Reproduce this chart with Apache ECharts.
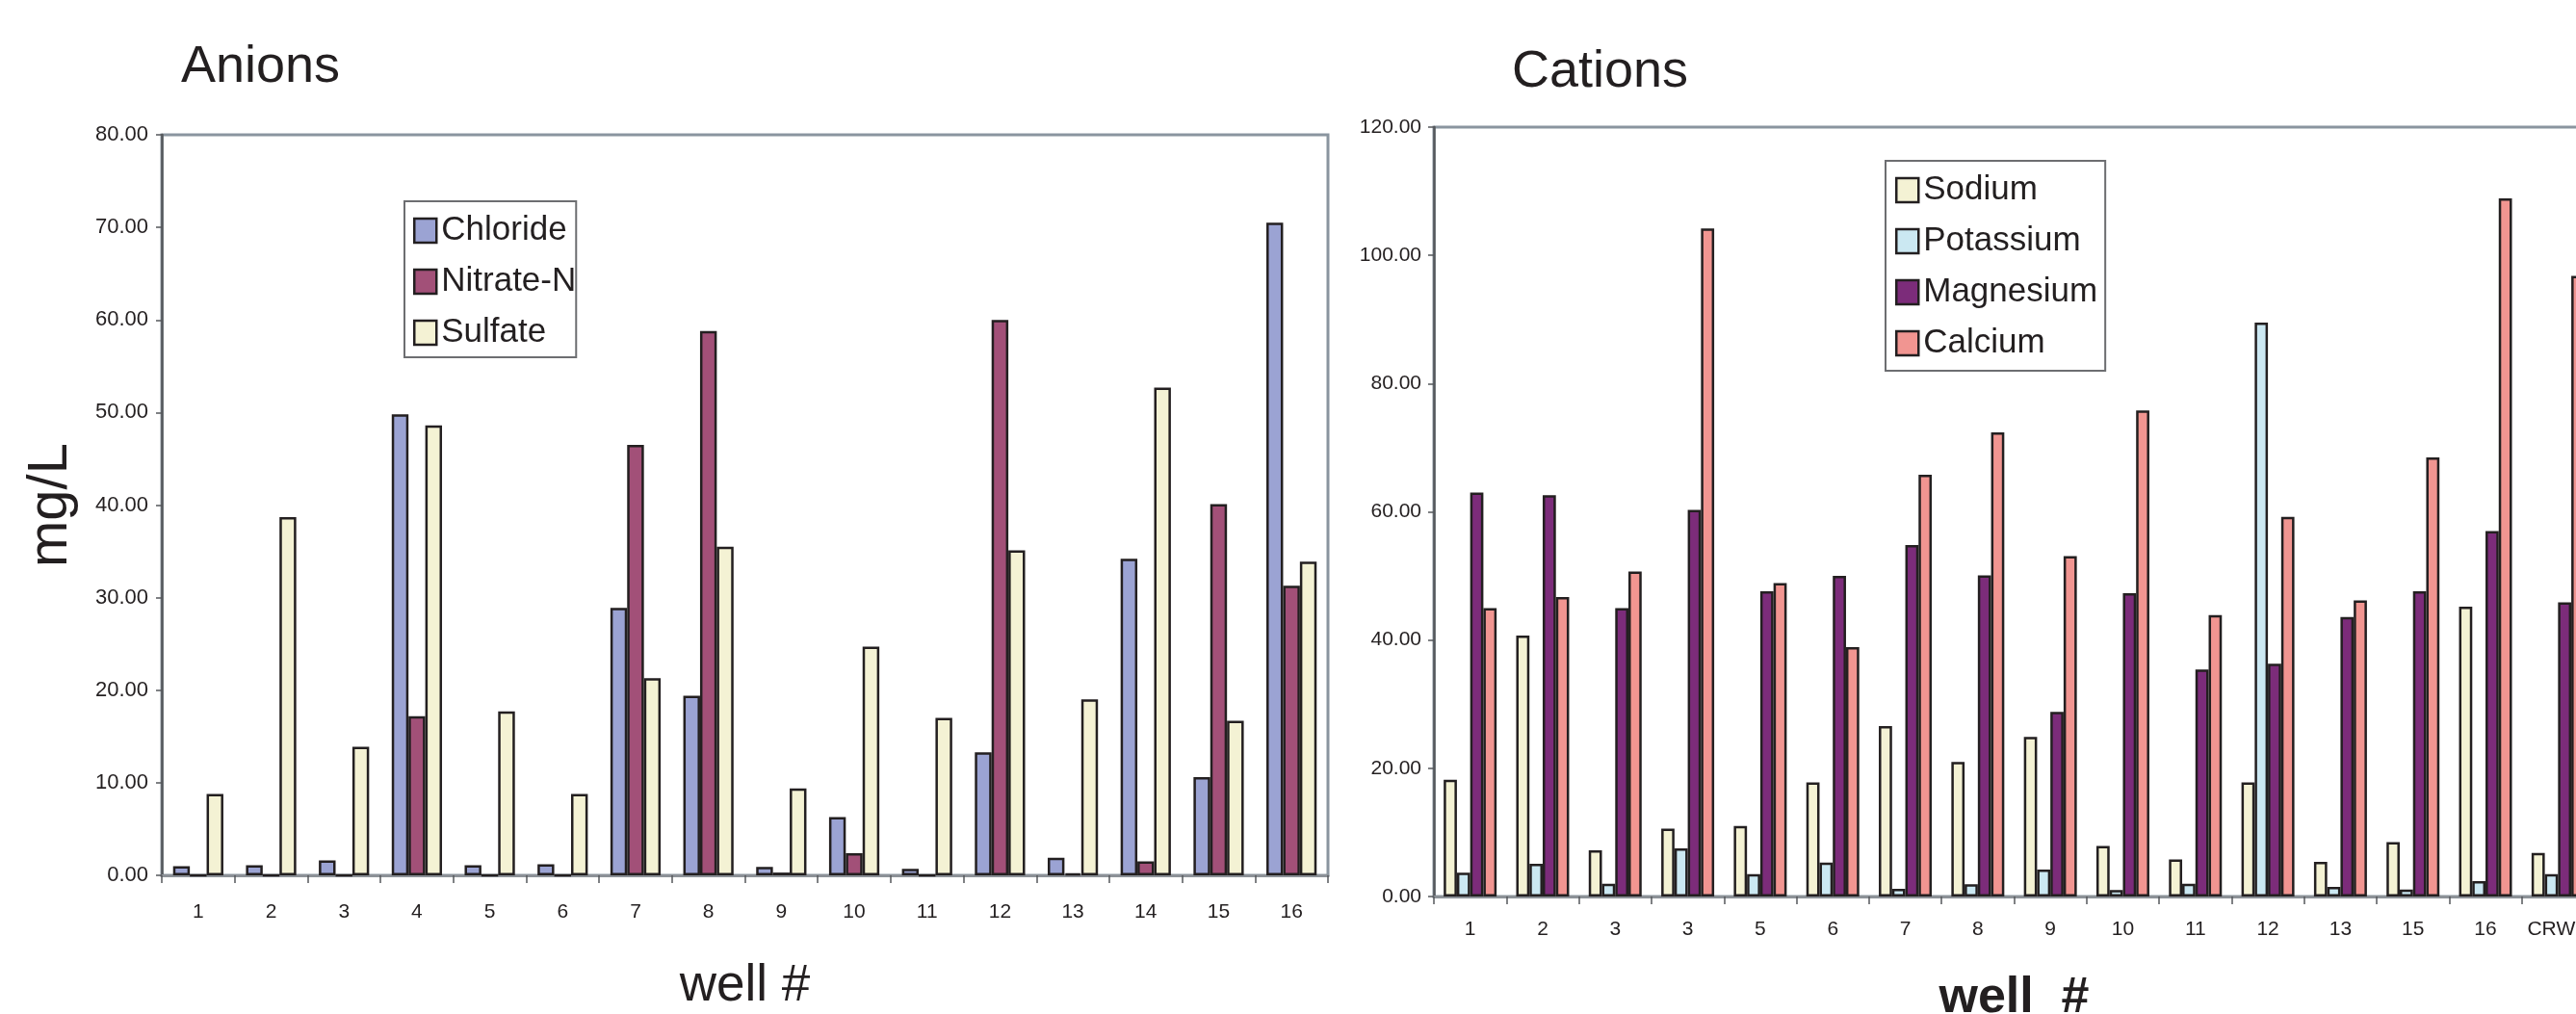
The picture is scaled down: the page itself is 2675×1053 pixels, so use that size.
<!DOCTYPE html>
<html>
<head>
<meta charset="utf-8">
<title>Anions and Cations by well</title>
<script src="https://cdn.jsdelivr.net/npm/echarts@6/dist/echarts.min.js"></script>
<style>
  html, body { margin: 0; padding: 0; background: #ffffff; }
  #chart { width: 2675px; height: 1053px; }
</style>
</head>
<body>
<div id="chart"></div>
<script>
// Anion concentrations (mg/L) per well
const anionWells = ['1', '2', '3', '4', '5', '6', '7', '8', '9', '10', '11', '12', '13', '14', '15', '16'];
const chloride = [1.0, 1.1, 1.6, 49.8, 1.1, 1.2, 28.9, 19.4, 0.9, 6.3, 0.7, 13.3, 1.9, 34.2, 10.6, 70.5];
const nitrateN = [0, 0, 0, 17.2, 0, 0, 46.5, 58.8, 0.3, 2.4, 0, 60.0, 0.2, 1.5, 40.1, 31.3];
const sulfate = [8.8, 38.7, 13.9, 48.6, 17.7, 8.8, 21.3, 35.5, 9.4, 24.7, 17.0, 35.1, 19.0, 52.7, 16.7, 33.9];

// Cation concentrations (mg/L) per well
const cationWells = ['1', '2', '3', '3', '5', '6', '7', '8', '9', '10', '11', '12', '13', '15', '16', 'CRWP'];
const sodium = [18.2, 40.7, 7.2, 10.6, 11.0, 17.8, 26.6, 21.0, 24.9, 7.9, 5.8, 17.8, 5.4, 8.5, 45.2, 6.8];
const potassium = [3.7, 5.1, 2.0, 7.5, 3.5, 5.3, 1.2, 1.9, 4.2, 1.0, 2.0, 89.5, 1.5, 1.1, 2.4, 3.5];
const magnesium = [63.0, 62.6, 45.0, 60.3, 47.6, 50.0, 54.8, 50.1, 28.8, 47.3, 35.4, 36.3, 43.6, 47.6, 57.0, 45.9];
const calcium = [45.0, 46.7, 50.7, 104.2, 48.9, 38.9, 65.8, 72.4, 53.1, 75.8, 43.9, 59.2, 46.2, 68.5, 108.9, 96.8];

// Value axis ranges
const anionAxis = { min: 0, max: 80, interval: 10 };
const cationAxis = { min: 0, max: 120, interval: 20 };

const FONT = "'Liberation Sans', Arial, Helvetica, sans-serif";
const INK = '#231f20';
const FRAME = '#8a959f';
const AXIS_DARK = '#55585c';
const OUTLINE = { borderColor: INK, borderWidth: 2.5 };

const colors = {
  chloride: '#9ba3d3',
  nitrate: '#a25078',
  sulfate: '#f4f2d4',
  sodium: '#f4f2d4',
  potassium: '#cbe8f2',
  magnesium: '#7c2c7a',
  calcium: '#f19591'
};

function barSeries(name, data, color, axisIndex, gap) {
  return {
    type: 'bar',
    name: name,
    data: data,
    xAxisIndex: axisIndex,
    yAxisIndex: axisIndex,
    barGap: '0%',
    barCategoryGap: gap,
    itemStyle: Object.assign({ color: color }, OUTLINE),
    emphasis: { disabled: true },
    animation: false
  };
}

function categoryAxis(gridIndex, cats, labelMargin, name, nameGap, nameStyle) {
  return {
    type: 'category',
    gridIndex: gridIndex,
    data: cats,
    axisLine: { show: true, lineStyle: { color: '#8c9197', width: 3 } },
    axisTick: { show: true, length: 8, lineStyle: { color: AXIS_DARK, width: 1.5 } },
    axisLabel: { color: INK, fontFamily: FONT, fontSize: 21, margin: labelMargin, interval: 0 },
    name: name,
    nameLocation: 'middle',
    nameGap: nameGap,
    nameMoveOverlap: false,
    nameTextStyle: nameStyle
  };
}

function valueAxis(gridIndex, range, fontSize, margin) {
  return {
    type: 'value',
    gridIndex: gridIndex,
    min: range.min,
    max: range.max,
    interval: range.interval,
    splitLine: { show: false },
    axisLine: { show: true, lineStyle: { color: AXIS_DARK, width: 2.5 } },
    axisTick: { show: true, length: 6, lineStyle: { color: AXIS_DARK, width: 1.5 } },
    axisLabel: {
      color: INK, fontFamily: FONT, fontSize: fontSize, margin: margin,
      formatter: function (v) { return v.toFixed(2); }
    }
  };
}

const legendBase = {
  orient: 'vertical',
  icon: 'rect',
  itemWidth: 23,
  itemHeight: 25,
  itemGap: 12,
  borderColor: '#6d6e71',
  borderWidth: 2,
  backgroundColor: '#ffffff',
  itemStyle: { borderColor: INK, borderWidth: 2.5 },
  textStyle: { color: INK, fontFamily: FONT, fontSize: 35, lineHeight: 41 },
  selectedMode: false
};

const chart = echarts.init(document.getElementById('chart'), null, { renderer: 'canvas' });

chart.setOption({
  animation: false,
  backgroundColor: '#ffffff',
  title: [
    { text: 'Anions', left: 188, top: 43, padding: 0,
      textStyle: { color: INK, fontFamily: FONT, fontSize: 54, fontWeight: 'normal' } },
    { text: 'Cations', left: 1570, top: 48, padding: 0,
      textStyle: { color: INK, fontFamily: FONT, fontSize: 54, fontWeight: 'normal' } }
  ],
  legend: [
    Object.assign({}, legendBase, {
      left: 420, top: 209, padding: [10, 0, 5, 9],
      data: ['Chloride', 'Nitrate-N', 'Sulfate']
    }),
    Object.assign({}, legendBase, {
      left: 1958, top: 167, padding: [10, 8, 8, 10],
      data: ['Sodium', 'Potassium', 'Magnesium', 'Calcium']
    })
  ],
  // The cation panel runs past the right edge of the page, so the plot
  // rectangles are fixed and not squeezed to keep their labels inside.
  grid: [
    { left: 168, top: 140, width: 1211, height: 769, show: true,
      outerBoundsMode: 'none', containLabel: false,
      borderColor: FRAME, borderWidth: 3, backgroundColor: 'transparent' },
    { left: 1489, top: 132, width: 1205, height: 799, show: true,
      outerBoundsMode: 'none', containLabel: false,
      borderColor: FRAME, borderWidth: 3, backgroundColor: 'transparent' }
  ],
  xAxis: [
    categoryAxis(0, anionWells, 28, 'well #', 89,
      { color: INK, fontFamily: FONT, fontSize: 53 }),
    categoryAxis(1, cationWells, 24, 'well  #', 80,
      { color: INK, fontFamily: FONT, fontSize: 52, fontWeight: 'bold' })
  ],
  yAxis: [
    Object.assign(valueAxis(0, anionAxis, 22, 14), {
      name: 'mg/L', nameLocation: 'middle', nameGap: 86, nameRotate: 90,
      nameMoveOverlap: false,
      nameTextStyle: { color: INK, fontFamily: FONT, fontSize: 58 }
    }),
    valueAxis(1, cationAxis, 21, 13)
  ],
  series: [
    barSeries('Chloride', chloride, colors.chloride, 0, '31%'),
    barSeries('Nitrate-N', nitrateN, colors.nitrate, 0, '31%'),
    barSeries('Sulfate', sulfate, colors.sulfate, 0, '31%'),
    barSeries('Sodium', sodium, colors.sodium, 1, '27%'),
    barSeries('Potassium', potassium, colors.potassium, 1, '27%'),
    barSeries('Magnesium', magnesium, colors.magnesium, 1, '27%'),
    barSeries('Calcium', calcium, colors.calcium, 1, '27%')
  ]
});
</script>
</body>
</html>
